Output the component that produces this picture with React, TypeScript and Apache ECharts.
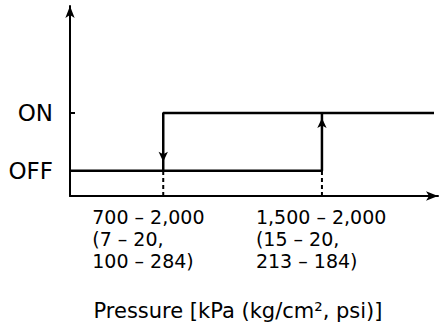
import React, { useEffect, useRef } from "react";
import * as echarts from "echarts";

const stateLevels = [0, 1];
const stateLabels = ["OFF", "ON"];
const switchPressures = [700, 1500];
const pressureLabels = [
  "700 – 2,000\n(7 – 20,\n100 – 284)",
  "1,500 – 2,000\n(15 – 20,\n213 – 184)",
];
const axisTitle = "Pressure [kPa (kg/cm², psi)]";
const pressureMin = 230;
const pressureMax = 2085;
const risingX = [230, 1500, 1500];
const risingY = [0, 0, 1];
const fallingX = [2065, 700, 700];
const fallingY = [1, 1, 0];
const yMin = -0.44;
const yMax = 2.86;

const FONT = "DejaVu Sans";

export default function App() {
  const ref = useRef<HTMLDivElement>(null);
  useEffect(() => {
    if (!ref.current) return;
    const chart = echarts.init(ref.current, null, { renderer: "svg" });
    const black = "#000";
    const rising = risingX.map((x, i) => {
      const last = i === risingX.length - 1;
      return {
        value: [x, risingY[i]],
        symbol: last ? "arrow" : "none",
        symbolSize: [7, 10],
        symbolOffset: [0, 5],
      };
    });
    const falling = fallingX.map((x, i) => {
      const last = i === fallingX.length - 1;
      return {
        value: [x, fallingY[i]],
        symbol: last ? "arrow" : "none",
        symbolSize: [7, 10],
        symbolRotate: 180,
        symbolOffset: [0, -9],
      };
    });
    const dashed = switchPressures.map((p) => ({
      type: "line",
      data: [
        [p, yMin],
        [p, stateLevels[0]],
      ],
      symbol: "none",
      lineStyle: { color: black, width: 2, type: [4, 3] },
      z: 1,
    }));
    const option: any = {
      animation: false,
      backgroundColor: "#fff",
      grid: { left: 70, right: 10, top: 6, bottom: 138, containLabel: false },
      xAxis: {
        type: "value",
        min: pressureMin,
        max: pressureMax,
        axisLine: {
          show: true,
          onZero: false,
          symbol: ["none", "arrow"],
          symbolSize: [7, 12],
          lineStyle: { color: black, width: 2 },
        },
        axisTick: { show: false },
        axisLabel: { show: false },
        splitLine: { show: false },
      },
      yAxis: {
        type: "value",
        min: yMin,
        max: yMax,
        axisLine: {
          show: true,
          onZero: false,
          symbol: ["none", "arrow"],
          symbolSize: [7, 12],
          lineStyle: { color: black, width: 2 },
        },
        axisTick: {
          show: true,
          inside: true,
          length: 5,
          customValues: stateLevels,
          lineStyle: { color: black, width: 2 },
        },
        axisLabel: {
          show: true,
          customValues: stateLevels,
          margin: 17,
          color: black,
          fontFamily: FONT,
          fontSize: 23,
          formatter: (v: number) => stateLabels[stateLevels.indexOf(Math.round(v))] ?? "",
        },
        splitLine: { show: false },
      },
      series: [
        ...dashed,
        {
          type: "line",
          data: rising,
          lineStyle: { color: black, width: 2.5 },
          itemStyle: { color: black },
          z: 3,
        },
        {
          type: "line",
          data: falling,
          lineStyle: { color: black, width: 2.5 },
          itemStyle: { color: black },
          z: 3,
        },
      ],
    };
    chart.setOption(option);
    const offsets = [-71, -66];
    const graphics: any[] = switchPressures.map((p, i) => {
      const px = chart.convertToPixel({ gridIndex: 0 }, [p, yMin]) as number[];
      return {
        type: "text",
        x: px[0] + offsets[i],
        y: 206,
        style: {
          text: pressureLabels[i],
          fill: black,
          font: `19px "${FONT}"`,
          lineHeight: 22,
          textAlign: "left",
          textVerticalAlign: "top",
        },
      };
    });
    graphics.push({
      type: "text",
      x: 238,
      y: 311,
      style: {
        text: axisTitle,
        fill: black,
        font: `21px "${FONT}"`,
        textAlign: "center",
        textVerticalAlign: "middle",
      },
    });
    chart.setOption({ graphic: graphics });
    return () => chart.dispose();
  }, []);
  return (
    <div
      ref={ref}
      style={{ position: "absolute", left: 0, top: 0, width: 448, height: 334 }}
    />
  );
}
